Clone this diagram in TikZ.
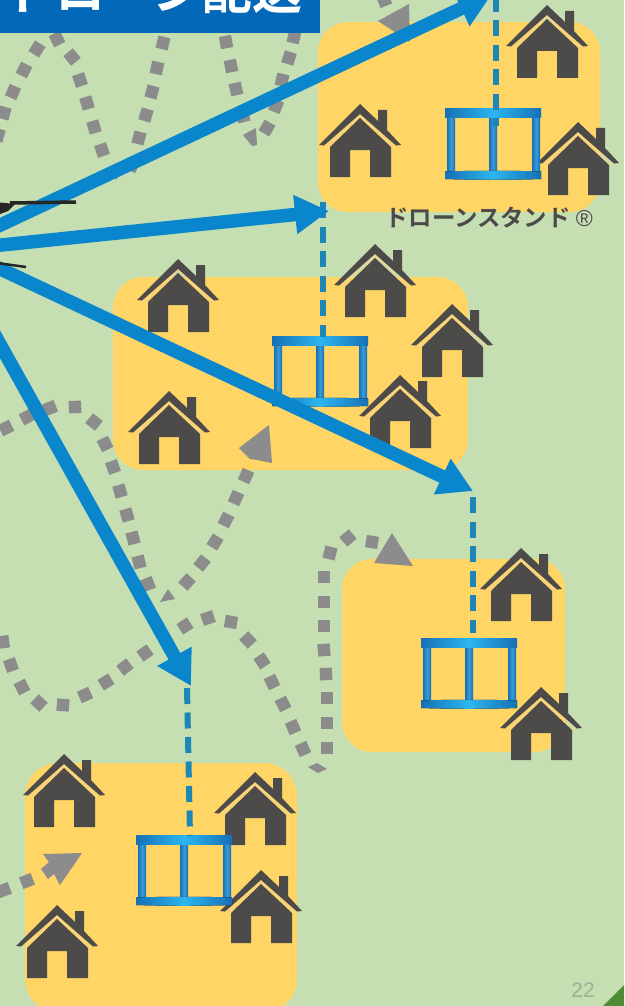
\documentclass[tikz,border=0pt]{standalone}
\usepackage{fontspec}
\newfontfamily\jpfont{Noto Sans CJK JP}[BoldFont={* Bold}]
\setmainfont{Liberation Sans}
\usetikzlibrary{arrows.meta}
\definecolor{bgc}{HTML}{C5DFB2}
\definecolor{yel}{HTML}{FFD566}
\definecolor{barc}{HTML}{0468B8}
\definecolor{flyc}{HTML}{0A86CC}
\definecolor{dashc}{HTML}{1C87B5}
\definecolor{dotc}{HTML}{8C8C8C}
\definecolor{housec}{HTML}{4D4A4A}
\definecolor{creamc}{HTML}{F3D48C}
\definecolor{stda}{HTML}{1670B4}
\definecolor{stdb}{HTML}{2CB6F0}
\definecolor{postc}{HTML}{3A9AD8}
\definecolor{pagec}{HTML}{9DAF95}
\definecolor{cornerc}{HTML}{4E8B37}
\newcommand{\dotrun}[3]{%
  \foreach \x/\y [remember=\x as \px (initially #1), remember=\y as \py (initially #2)] in {#3} {
    \pgfmathsetmacro\ang{atan2(\py-\y,\x-\px)}
    \fill[dotc,shift={(\x,\y)},rotate=\ang] (-6.2,-6.2) rectangle (6.2,6.2);
  }}
\tikzset{
 x=1pt,y=-1pt,
 tipgray/.style={fill=dotc,draw=none},
 fly/.style={draw=flyc,line width=13.5pt,-{Triangle[length=34pt,width=37pt]}},
 tether/.style={draw=dashc,line width=6pt,dash pattern=on 16pt off 8.5pt},
 wing/.style={draw=black!85,line width=3.5pt},
 hbar/.style={left color=stda,right color=stda,middle color=stdb,draw=none},
 hpost/.style={left color=stda,right color=stda,middle color=postc,draw=none},
 housepic/.pic={
  \fill[housec] (-41,41)--(0,0)--(18,17)--(18,6)--(27,6)--(27,26)--(41,41)--(36,41.5)--(0,10)--(-36,41.5)--cycle;
  \draw[creamc,line width=1.4pt] (-34,43)--(0,11.5)--(34,43);
  \fill[housec] (0,14)--(31,43)--(31,73)--(10,73)--(10,46)--(-10,46)--(-10,73)--(-30,73)--(-30,43)--cycle;
 },
 standpic/.pic={
  \fill[hpost] (2,8) rectangle (10,64);
  \fill[hpost] (44,8) rectangle (52,64);
  \fill[hpost] (87,8) rectangle (95,64);
  \fill[hbar] (0,0) rectangle (96,9);
  \fill[hbar] (0,62.5) .. controls (30,61.5) and (66,61.5) .. (96,62.5) -- (96,70) .. controls (66,71) and (30,71) .. (0,70) -- cycle;
 }
}
\begin{document}
\begin{tikzpicture}
\useasboundingbox (0,0) rectangle (624,1006);
\clip (0,0) rectangle (624,1006);
\fill[bgc] (0,0) rectangle (624,1006);
% areas
\fill[yel,rounded corners=30pt] (318,22) rectangle (600,212);
\fill[yel,rounded corners=30pt] (113,277) rectangle (468,470);
\fill[yel,rounded corners=30pt] (342,559) rectangle (565,752);
\fill[yel,rounded corners=33pt] (25,763) rectangle (297,1012);
% delivery routes
\dotrun{-6}{150}{-2/135,4/113,13/92,24/70,37/49,57/39}
\dotrun{50}{30}{72/57,80/80,87/103,94/127,102/150}
\fill[dotc] (108,172)--(119,168)--(117,180)--cycle;
\dotrun{128}{175}{132/165,139/138,146/115,152/92,157/68,163/43}
\dotrun{222}{20}{226/42,231/66,236/89,243/116}
\fill[dotc] (243,135)--(256,128)--(257,145)--(252,146)--cycle;
\dotrun{260}{140}{267/128,276/106,282/80,289/58,294/37}
\dotrun{380}{-10}{384/0}
\fill[tipgray] (378,21)--(409,4)--(410,42)--cycle;
\dotrun{-10}{436}{6/428,27/417,50/408,75/407,94/422,105/444,113/467,120/491,127/515,133/538,139/562,148/584}
\fill[dotc] (160,602)--(168,589)--(175,599)--cycle;
\dotrun{175}{595}{187/582,202/563,215/542,226/520,236/498,246/476}
\fill[tipgray] (239,448)--(269,425)--(272,463)--(257,460)--(250,459)--cycle;
\dotrun{0}{620}{3/642,11/665,22/687,39/703,63/705,85/695,106/682,125/667,145/653,165/639,185/626,208/618,231/622,248/640,262/661,272/682,283/704,293/727,303/749}
\fill[dotc] (308,767)--(317,763)--(327,769)--(318,773)--cycle;
\dotrun{327}{770}{327/748,327/723,327/698,326/674,324/650,324/626,324/602,324/577,330/553,348/538,372/542}
\fill[tipgray] (392,533)--(413,566)--(374,563)--cycle;
\dotrun{-15}{897}{4/890,27/881}
\fill[tipgray] (43,854)--(82,853)--(60,885)--(54,874)--(48,879)--(41,869)--(49,862)--cycle;
% houses
\foreach \nm/\hx/\hy in {ha/547/5,hb/360/104,hc/578/122,hd/178/259,he/375/244,hf/452/304,hg/400/375,hh/169/391,hi/521/548,hj/541/687,hk/64/754,hl/255/772,hm/261/870,hn/57/905}
  \pic (\nm) at (\hx,\hy) {housepic};
% stands
\pic (sa) at (445,109) {standpic};
\pic (sb) at (272,336) {standpic};
\pic (sc) at (421,638) {standpic};
\pic (sd) at (136,835) {standpic};
% coordinates
\coordinate (dronea) at (-8,229);
\coordinate (droneb) at (-8,246);
\coordinate (dronec) at (-8,265);
\coordinate (droned) at (-8,330);
\coordinate (pa) at (492,-6);
\coordinate (pb) at (329,211);
\coordinate (pc) at (473,491);
\coordinate (pd) at (191,686);
\coordinate (ta) at (496,-4);
\coordinate (tab) at (496,126);
\coordinate (tb) at (323,202);
\coordinate (tbb) at (323,337);
\coordinate (tc) at (473,497);
\coordinate (tcb) at (473,633);
\coordinate (td) at (187,688);
\coordinate (tdb) at (190,836);
% tethers
\draw[tether] (ta)--(tab);
\draw[tether] (tb)--(tbb);
\draw[tether] (tc)--(tcb);
\draw[tether] (td)--(tdb);
% flight arrows
\draw[fly] (dronea)--(pa);
\draw[fly] (droneb)--(pb);
\draw[fly] (dronec)--(pc);
\draw[fly] (droned)--(pd);
% drone remains
\draw[wing] (10,203)--(76,202);
\fill[black!85] (-5,202) -- (15,204) -- (8,211) -- (-5,216) -- cycle;
\draw[wing,line width=2.5pt] (-3,263)--(26,267);
% title bar
\fill[barc] (0,0) rectangle (320,33);
\begin{scope}
\clip (0,0) rectangle (320,33);
\node[anchor=base east,text=white,inner sep=0pt,font=\jpfont\bfseries\fontsize{50}{50}\selectfont] (title) at (303,10) {ドローン配送};
\end{scope}
\node[text=housec,inner sep=0pt,anchor=west,font=\jpfont\bfseries\fontsize{23.4}{23.4}\selectfont] (label) at (385,217) {ドローンスタンド{\rmfamily\mdseries\fontsize{23}{23}\selectfont\hspace{5pt}®}};
% page
\node[text=pagec,inner sep=0pt,font=\fontsize{21}{21}\selectfont] (page) at (583,990) {22};
\fill[cornerc] (603,1006)--(624,985)--(624,1006)--cycle;
\end{tikzpicture}
\end{document}
